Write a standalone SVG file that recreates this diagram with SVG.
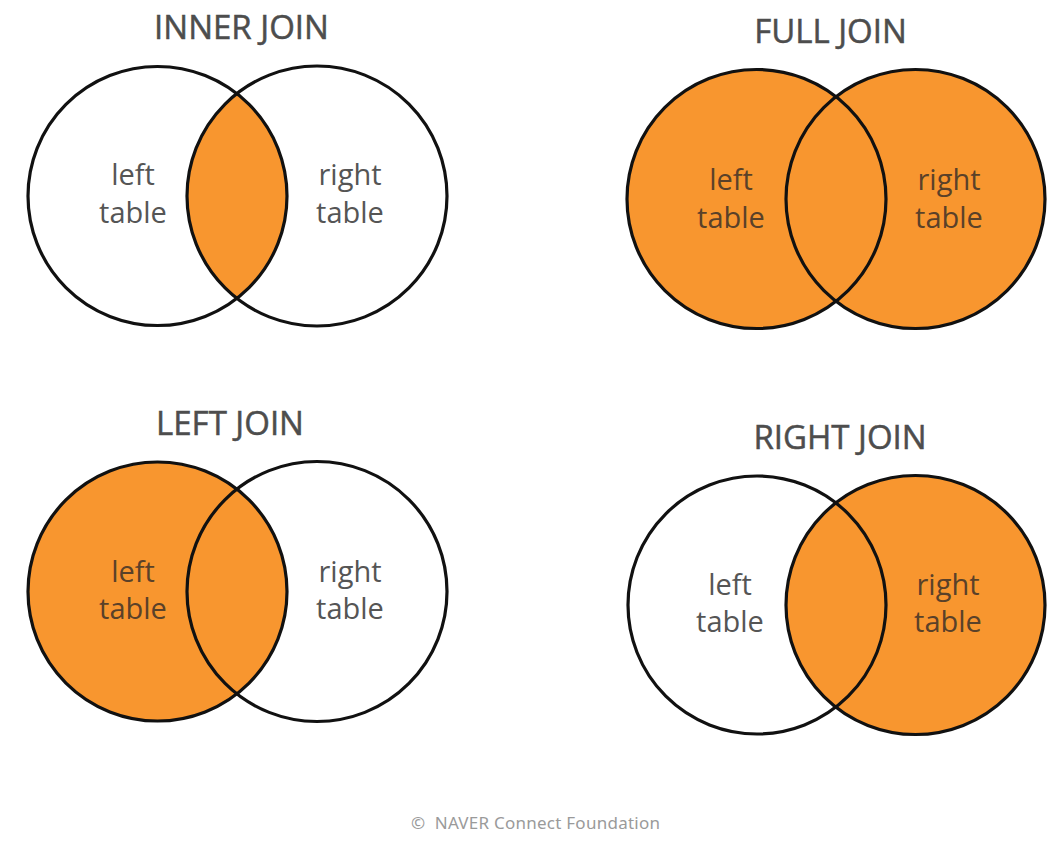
<svg xmlns="http://www.w3.org/2000/svg" width="1059" height="846" viewBox="0 0 1059 846">
  <style>
    .ring { fill: none; stroke: #111; stroke-width: 3.2; }
    .fill { fill: #F8962F; }
    .title { font-family: "Open Sans", "Liberation Sans", sans-serif; font-size: 33px; fill: #4d4d4d; text-anchor: middle; stroke: #4d4d4d; stroke-width: 0.5; }
    .lbl { font-family: "Open Sans", "Liberation Sans", sans-serif; font-size: 29px; fill: #555; text-anchor: middle; }
    .lblo { font-family: "Open Sans", "Liberation Sans", sans-serif; font-size: 29px; fill: #5a4129; text-anchor: middle; }
    .foot { font-family: "Noto Sans", "Liberation Sans", sans-serif; font-size: 17px; fill: #9a9a9a; }
  </style>
  <defs>
    <clipPath id="clipInnerL"><circle cx="157.5" cy="196" r="129.5"/></clipPath>
  </defs>
  <rect width="1059" height="846" fill="#ffffff"/>

  <g id="inner-join">
    <text class="title" x="241.5" y="39">INNER JOIN</text>
    <circle cx="317" cy="196" r="130" class="fill" clip-path="url(#clipInnerL)"/>
    <circle class="ring" cx="157.5" cy="196" r="129.5"/>
    <circle class="ring" cx="317" cy="196" r="130"/>
    <text class="lbl" x="133" y="185">left</text>
    <text class="lbl" x="133" y="223">table</text>
    <text class="lbl" x="350" y="185">right</text>
    <text class="lbl" x="350" y="223">table</text>
  </g>

  <g id="full-join">
    <text class="title" x="830.5" y="43">FULL JOIN</text>
    <circle class="fill" cx="756.5" cy="199" r="129.5"/>
    <circle class="fill" cx="915.5" cy="199" r="129.5"/>
    <circle class="ring" cx="756.5" cy="199" r="129.5"/>
    <circle class="ring" cx="915.5" cy="199" r="129.5"/>
    <text class="lblo" x="731" y="190">left</text>
    <text class="lblo" x="731" y="228">table</text>
    <text class="lblo" x="949" y="190">right</text>
    <text class="lblo" x="949" y="228">table</text>
  </g>

  <g id="left-join">
    <text class="title" x="230" y="435">LEFT JOIN</text>
    <circle class="fill" cx="157.5" cy="591.5" r="129.5"/>
    <circle class="ring" cx="157.5" cy="591.5" r="129.5"/>
    <circle class="ring" cx="317" cy="591.5" r="130"/>
    <text class="lblo" x="133" y="582">left</text>
    <text class="lblo" x="133" y="619">table</text>
    <text class="lbl" x="350" y="582">right</text>
    <text class="lbl" x="350" y="619">table</text>
  </g>

  <g id="right-join">
    <text class="title" x="840" y="449">RIGHT JOIN</text>
    <circle class="fill" cx="915.5" cy="605" r="129.5"/>
    <circle class="ring" cx="757" cy="605" r="129"/>
    <circle class="ring" cx="915.5" cy="605" r="129.5"/>
    <text class="lbl" x="730" y="595">left</text>
    <text class="lbl" x="730" y="632">table</text>
    <text class="lblo" x="948" y="595">right</text>
    <text class="lblo" x="948" y="632">table</text>
  </g>

  <g id="footer">
    <text class="foot" x="411" y="829" textLength="249" lengthAdjust="spacing" xml:space="preserve">©  NAVER Connect Foundation</text>
  </g>
</svg>
